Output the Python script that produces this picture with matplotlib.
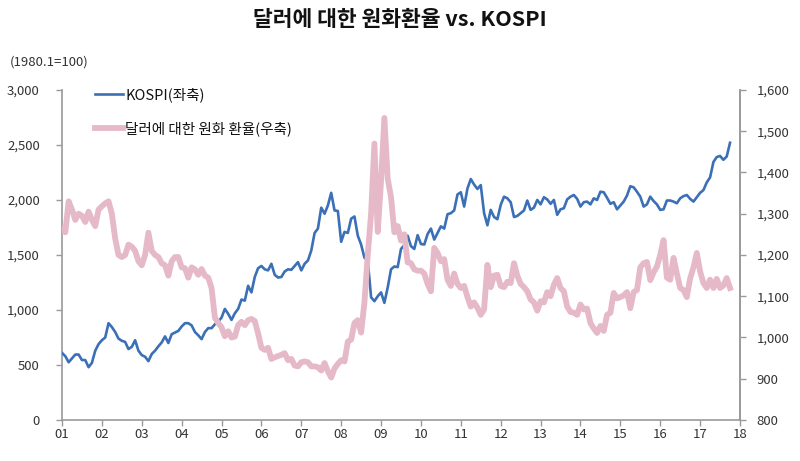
import matplotlib
matplotlib.use("Agg")

import numpy as np
import matplotlib.pyplot as plt
from matplotlib.lines import Line2D

plt.rcParams['font.family'] = ['Noto Sans CJK KR', 'DejaVu Sans']

# monthly values, Jan 2001 .. Oct 2017
kospi = [
    610, 580, 525, 560, 595, 595, 545, 545, 480, 520, 630, 690,      # 01
    725, 750, 880, 845, 800, 740, 720, 710, 645, 665, 725, 630,      # 02
    590, 575, 535, 600, 630, 670, 705, 760, 700, 780, 795, 810,      # 03
    850, 880, 880, 860, 800, 770, 735, 800, 835, 835, 870, 895,      # 04
    930, 1010, 965, 910, 970, 1010, 1095, 1085, 1220, 1160, 1300, 1380,  # 05
    1400, 1370, 1360, 1420, 1320, 1295, 1300, 1350, 1370, 1365, 1400, 1435,  # 06
    1360, 1420, 1450, 1540, 1700, 1740, 1930, 1875, 1950, 2065, 1905, 1900,  # 07
    1620, 1710, 1700, 1830, 1850, 1675, 1595, 1475, 1450, 1115, 1080, 1125,  # 08
    1160, 1065, 1205, 1370, 1395, 1390, 1555, 1590, 1675, 1580, 1555, 1680,  # 09
    1600, 1595, 1690, 1740, 1640, 1700, 1760, 1740, 1870, 1880, 1905, 2050,  # 10
    2070, 1940, 2105, 2190, 2140, 2100, 2135, 1880, 1770, 1910, 1845, 1825,  # 11
    1955, 2030, 2015, 1980, 1845, 1855, 1880, 1905, 1995, 1910, 1930, 2000,  # 12
    1960, 2025, 2005, 1965, 2000, 1865, 1915, 1925, 2005, 2030, 2045, 2010,  # 13
    1940, 1980, 1985, 1960, 2015, 2000, 2075, 2070, 2020, 1965, 1980, 1915,  # 14
    1950, 1985, 2040, 2125, 2115, 2075, 2030, 1940, 1960, 2030, 1990, 1960,  # 15
    1910, 1915, 1995, 1995, 1985, 1970, 2015, 2035, 2045, 2010, 1985, 2025,  # 16
    2065, 2090, 2160, 2205, 2345, 2390, 2400, 2365, 2395, 2520,              # 17
]

krw_usd = [
    1263, 1255, 1330, 1310, 1285, 1300, 1295, 1280, 1305, 1285, 1270, 1310,  # 01
    1318, 1325, 1330, 1300, 1240, 1200, 1195, 1200, 1225, 1220, 1210, 1185,  # 02
    1175, 1200, 1254, 1210, 1200, 1195, 1180, 1175, 1150, 1185, 1195, 1195,  # 03
    1170, 1168, 1145, 1170, 1165, 1152, 1166, 1150, 1145, 1120, 1048, 1035,  # 04
    1025, 1003, 1015, 1000, 1002, 1030, 1038, 1030, 1042, 1045, 1040, 1010,  # 05
    975, 970, 975, 948, 952, 955, 958, 962, 945, 948, 932, 930,              # 06
    940, 942, 940, 930, 930, 928, 920, 938, 918, 903, 925, 936,              # 07
    945, 942, 990, 995, 1035, 1042, 1012, 1085, 1200, 1300, 1470, 1256,      # 08
    1380, 1532, 1385, 1340, 1255, 1270, 1235, 1250, 1182, 1180, 1165, 1162,  # 09
    1162, 1155, 1130, 1112, 1217, 1205, 1185, 1190, 1140, 1125, 1155, 1130,  # 10
    1120, 1125, 1098, 1075, 1085, 1072, 1055, 1068, 1176, 1122, 1150, 1152,  # 11
    1125, 1122, 1135, 1132, 1180, 1150, 1130, 1122, 1112, 1092, 1085, 1065,  # 12
    1088, 1085, 1110, 1100, 1128, 1144, 1120, 1112, 1075, 1062, 1060, 1055,  # 13
    1080, 1068, 1070, 1035, 1022, 1011, 1028, 1016, 1055, 1060, 1108, 1095,  # 14
    1098, 1102, 1110, 1071, 1110, 1115, 1170, 1180, 1183, 1139, 1158, 1172,  # 15
    1200, 1236, 1145, 1140, 1193, 1155, 1120, 1115, 1098, 1143, 1170, 1205,  # 16
    1160, 1132, 1120, 1140, 1120, 1142, 1120, 1126, 1144, 1120,              # 17
]

year_ticks = list(range(2001, 2019))
year_labels = [f"{y % 100:02d}" for y in year_ticks]

months = 2001 + np.arange(len(kospi)) / 12.0

blue = "#3b6fb6"
pink = "#e6b9c8"
axis_gray = "#9a9a9a"
text_col = "#333333"

fig = plt.figure(figsize=(8, 4.61), dpi=100)
ax = fig.add_axes([0.0775, 0.0889, 0.8475, 0.716])
ax2 = ax.twinx()

ax.plot(months, kospi, color=blue, lw=1.9, zorder=3)
ax2.plot(months, krw_usd, color=pink, lw=4.2, solid_joinstyle="round", zorder=2)

ax.set_xlim(2001, 2018)
ax.set_ylim(0, 3000)
ax2.set_ylim(800, 1600)

ax.set_xticks(year_ticks)
ax.set_xticklabels(year_labels)
ax.set_yticks(range(0, 3001, 500))
ax.set_yticklabels([f"{v:,}" for v in range(0, 3001, 500)])
ax2.set_yticks(range(800, 1601, 100))
ax2.set_yticklabels([f"{v:,}" for v in range(800, 1601, 100)])

for a in (ax, ax2):
    a.spines["top"].set_visible(False)
    for s in ("left", "right", "bottom"):
        a.spines[s].set_color(axis_gray)
        a.spines[s].set_linewidth(1.2)
    a.tick_params(colors=axis_gray, labelcolor=text_col, labelsize=9.5,
                  length=4, width=1.0)
ax.tick_params(axis="x", pad=2)
ax.tick_params(axis="y", pad=12)
ax2.tick_params(axis="y", pad=8)
ax2.spines["left"].set_visible(False)
ax2.spines["bottom"].set_visible(False)

# axis labels / title
fig.text(0.5, 0.958, "달러에 대한 원화환율 vs. KOSPI", ha="center", va="center",
         fontsize=15.5, fontweight="bold", color="#111111")
fig.text(0.012, 0.865, "(1980.1=100)", ha="left", va="center",
         fontsize=9.5, color=text_col)

handles = [
    Line2D([0], [0], color=blue, lw=1.9),
    Line2D([0], [0], color=pink, lw=4.2),
]
leg = ax2.legend(handles, ["KOSPI(좌축)", "달러에 대한 원화 환율(우축)"],
                 loc="upper left", bbox_to_anchor=(0.119, 0.81),
                 bbox_transform=fig.transFigure, frameon=False,
                 fontsize=10.5, handlelength=1.9, handletextpad=0.15,
                 labelspacing=1.3, borderpad=0, borderaxespad=0)
for t in leg.get_texts():
    t.set_color("#111111")

plt.savefig("out.png", dpi=100)
plt.close()
